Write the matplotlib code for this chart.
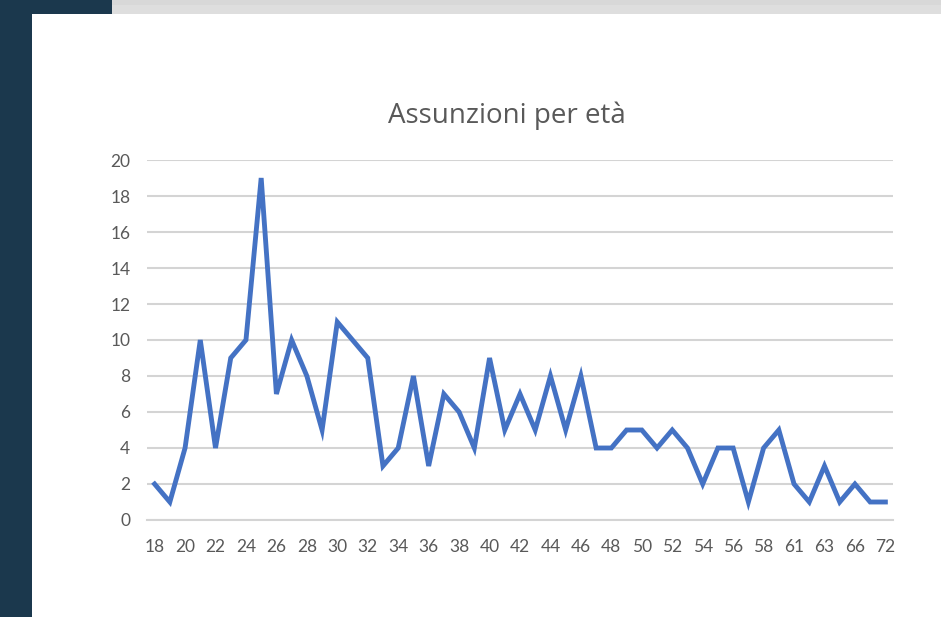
import matplotlib
matplotlib.use("Agg")
import matplotlib.pyplot as plt
from matplotlib.patches import Rectangle

ages = ["18", "19", "20", "21", "22", "23", "24", "25", "26", "27", "28", "29",
        "30", "31", "32", "33", "34", "35", "36", "37", "38", "39", "40", "41",
        "42", "43", "44", "45", "46", "47", "48", "49", "50", "51", "52", "53",
        "54", "55", "56", "57", "58", "60", "61", "62", "63", "64", "66", "68", "72"]
hires = [2, 1, 4, 10, 4, 9, 10, 19, 7, 10, 8, 5,
         11, 10, 9, 3, 4, 8, 3, 7, 6, 4, 9, 5,
         7, 5, 8, 5, 8, 4, 4, 5, 5, 4, 5, 4,
         2, 4, 4, 1, 4, 5, 2, 1, 3, 1, 2, 1, 1]
yticks = [0, 2, 4, 6, 8, 10, 12, 14, 16, 18, 20]
title = "Assunzioni per età"

plt.rcParams['font.family'] = ['Lato', 'DejaVu Sans']
W, H = 941, 617
fig = plt.figure(figsize=(W / 100, H / 100), dpi=100)
fig.patch.set_facecolor("white")

# slide background decorations
fig.patches.append(Rectangle((0, 0), 32 / W, 1, transform=fig.transFigure,
                             facecolor="#1b384d", edgecolor="none", zorder=0))
fig.patches.append(Rectangle((0, 1 - 14 / H), 112 / W, 14 / H, transform=fig.transFigure,
                             facecolor="#1b384d", edgecolor="none", zorder=0))
fig.patches.append(Rectangle((112 / W, 1 - 14 / H), 1 - 112 / W, 14 / H, transform=fig.transFigure,
                             facecolor="#dedede", edgecolor="none", zorder=0))
fig.patches.append(Rectangle((112 / W, 1 - 5 / H), 1 - 112 / W, 5 / H, transform=fig.transFigure,
                             facecolor="#d8d8d8", edgecolor="none", zorder=0))

ax = fig.add_axes([147 / W, 1 - 520 / H, (893 - 147) / W, (520 - 160) / H])
ax.set_facecolor("none")
x = list(range(len(ages)))
ax.plot(x, hires, color="#4472C4", linewidth=3.5, solid_joinstyle="miter", zorder=3)

ax.set_xlim(-0.5, len(ages) - 0.5)
ax.set_ylim(0, 20)
ax.set_yticks(yticks)
ax.set_yticklabels([str(v) for v in yticks])
ax.set_xticks(x[::2])
ax.set_xticklabels(ages[::2])
ax.yaxis.grid(True, color="#d4d4d4", linewidth=1.5)
ax.set_axisbelow(True)
for s in ax.spines.values():
    s.set_visible(False)
ax.spines['bottom'].set_visible(True)
ax.spines['bottom'].set_color("#d4d4d4")
ax.spines['bottom'].set_linewidth(1.5)
ax.tick_params(axis='both', length=0, labelsize=12.5, colors="#595959")
ax.tick_params(axis='y', pad=12)
ax.tick_params(axis='x', pad=14)

fig.text(507 / W, 1 - 116 / H, title, ha="center", va="center",
         fontsize=20, color="#595959", family=['Open Sans', 'DejaVu Sans'])

fig.savefig("out.png", dpi=100)
